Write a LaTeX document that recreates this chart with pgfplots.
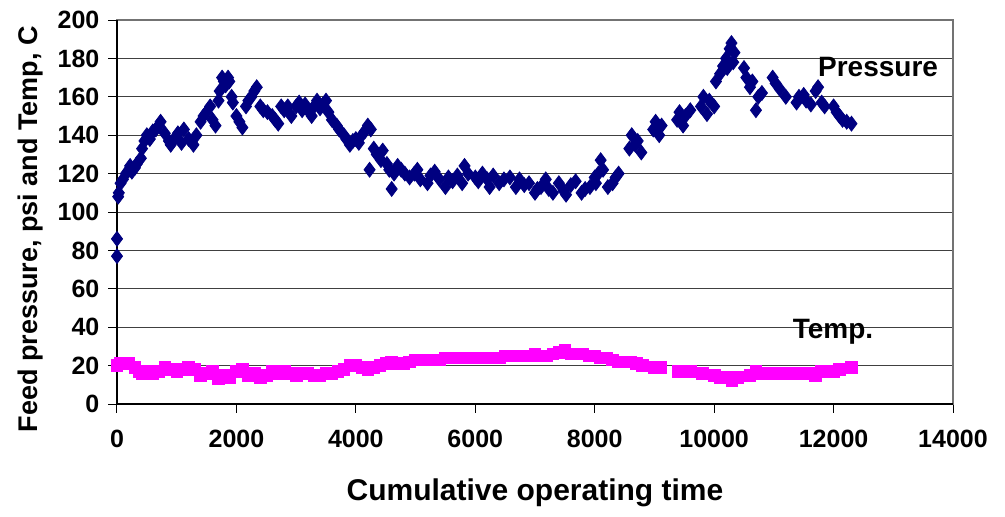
\documentclass[border=0pt]{standalone}
\usepackage{pgfplots}
\pgfplotsset{compat=1.18}
\usepackage{fontspec}
\setmainfont{Liberation Sans}
\definecolor{pnavy}{RGB}{0,0,128}
\definecolor{tmag}{RGB}{255,0,255}

\begin{document}
\begin{tikzpicture}
\path[use as bounding box] (-58.5pt,-56pt) rectangle (444pt,202pt);
\begin{axis}[
    at={(0,0)}, anchor=south west,
    scale only axis, width=418pt, height=192pt,
    xmin=0, xmax=14000, ymin=0, ymax=200,
    xtick={0,2000,...,14000}, ytick={0,20,...,200},
    scaled x ticks=false,
    xtick pos=left, ytick pos=left,
    tick align=outside, major tick length=4.3pt,
    ymajorgrids, major grid style={black!75, line width=0.5pt},
    axis line style={black!55, line width=0.6pt},
    tick style={black, line width=0.5pt},
    /pgf/number format/1000 sep={},
    /pgf/number format/assume math mode=true,
    ticklabel style={font=\fontsize{12.5}{14}\selectfont\bfseries},
    xticklabel style={yshift=-5pt},
    yticklabel style={xshift=-1pt},
    xlabel={Cumulative operating time},
    ylabel={Feed pressure, psi and Temp, C},
    xlabel style={font=\fontsize{15}{17}\selectfont\bfseries, at={(axis description cs:0.5,-0.232)}, anchor=center},
    ylabel style={font=\fontsize{13.5}{15}\selectfont\bfseries, at={(axis description cs:-0.104,0.455)}, anchor=center, rotate=0},
    clip=false,
]
% left and bottom axis lines in black
\draw[black, line width=0.6pt] (axis cs:0,200) -- (axis cs:0,0) -- (axis cs:14000,0);

% Pressure
\addplot[only marks, mark=diamond*, mark size=3.7pt, color=pnavy] coordinates {
(0,77) (0,86) (20,108) (30,110) (60,115) (100,117) (150,120) (200,122) (220,124)
(250,121) (300,123) (330,125) (400,128) (420,133) (460,137) (500,140) (550,138)
(600,142) (650,143) (700,145) (730,147) (800,141) (870,137) (900,135) (980,139)
(1020,141) (1080,136) (1120,143) (1200,138) (1280,135) (1330,140) (1400,147)
(1450,150) (1500,152) (1560,155) (1600,148) (1650,145) (1700,158) (1720,163)
(1760,170) (1790,168) (1820,166) (1860,170) (1880,168) (1920,160) (1940,157)
(2000,150) (2050,147) (2100,144) (2160,155) (2200,158) (2250,160) (2300,163)
(2340,165) (2400,155) (2450,153) (2520,152) (2600,150) (2650,148) (2700,146)
(2750,155) (2800,153) (2860,155) (2920,150) (3000,155) (3050,157) (3100,153)
(3150,156) (3220,152) (3260,150) (3300,155) (3350,158) (3400,154) (3450,156)
(3500,158) (3540,152) (3600,148) (3680,145) (3720,143) (3800,140) (3840,138)
(3900,135) (3950,137) (4000,138) (4050,136) (4100,140) (4150,142) (4200,145)
(4250,143) (4230,122) (4300,133) (4350,130) (4420,127) (4450,132) (4520,125)
(4560,122) (4600,112) (4640,120) (4700,124) (4760,122) (4820,120) (4900,118)
(4980,120) (5030,122) (5080,117) (5200,115) (5250,119) (5320,121) (5400,117)
(5500,113) (5550,118) (5620,116) (5700,119) (5780,115) (5820,124) (5880,120)
(6000,118) (6050,116) (6120,120) (6200,117) (6240,113) (6300,119) (6400,115)
(6480,117) (6580,118) (6680,113) (6740,117) (6820,114) (6900,115) (7000,110)
(7040,112) (7100,113) (7180,117) (7230,112) (7300,110) (7400,115) (7480,111)
(7520,109) (7600,114) (7680,116) (7780,110) (7840,112) (7920,113) (8000,118)
(8020,115) (8060,120) (8100,127) (8140,122) (8220,113) (8300,115) (8350,118)
(8400,120) (8580,133) (8620,140) (8680,135) (8720,137) (8780,131) (8980,143)
(9020,147) (9080,140) (9120,145) (9380,148) (9420,152) (9480,145) (9520,150)
(9600,153) (9780,155) (9820,160) (9880,151) (9920,158) (10000,155) (10030,168)
(10100,172) (10150,176) (10200,180) (10220,175) (10260,185) (10290,188) (10320,178)
(10340,183) (10500,175) (10540,170) (10600,165) (10640,168) (10700,153) (10740,160)
(10800,162) (10980,170) (11030,167) (11100,164) (11200,160) (11380,157) (11420,160)
(11500,161) (11540,158) (11620,156) (11700,163) (11740,165) (11800,157) (11850,155)
(12000,155) (12050,152) (12100,150) (12150,148) (12220,147) (12300,146)
};

% Temperature
\addplot[only marks, mark=square*, mark size=2.9pt, color=tmag] coordinates {
(0,20) (60,21) (200,21) (300,19) (380,17) (430,16) (500,17) (600,16) (700,17)
(800,19) (900,18) (1000,17) (1100,18) (1200,19) (1300,18) (1400,15) (1500,16)
(1600,17) (1700,13) (1780,15) (1880,14) (2000,17) (2100,18) (2200,15) (2300,16)
(2400,14) (2500,15) (2600,17) (2700,16) (2800,17) (2900,16) (3000,15) (3100,16)
(3200,16) (3300,15) (3400,15) (3500,16) (3600,16) (3700,17) (3800,18) (3900,20)
(4000,20) (4100,19) (4200,18) (4300,19) (4400,20) (4500,21) (4600,22) (4700,21)
(4800,21) (4900,22) (5000,23) (5100,23) (5200,23) (5300,23) (5400,23) (5500,24)
(5600,24) (5700,24) (5800,24) (5900,24) (6000,24) (6100,24) (6200,24) (6300,24)
(6400,24) (6500,25) (6600,25) (6700,25) (6800,25) (6900,25) (7000,26) (7100,25)
(7200,25) (7300,26) (7400,27) (7500,28) (7600,26) (7700,26) (7800,26) (7900,25)
(8000,25) (8100,24) (8200,24) (8300,23) (8400,22) (8600,22) (8700,21) (8800,20)
(9000,19) (9100,19) (9400,17) (9500,17) (9600,17) (9800,16) (10000,15) (10100,14)
(10200,14) (10300,12) (10400,14) (10600,15) (10700,17) (10800,16) (10900,16)
(11000,16) (11100,16) (11200,16) (11300,16) (11400,16) (11500,16) (11600,16)
(11700,15) (11800,17) (12000,17) (12100,18) (12300,19)
};

\node[font=\fontsize{14}{16}\selectfont\bfseries] at (axis cs:12745,175.5) {Pressure};
\node[font=\fontsize{14}{16}\selectfont\bfseries] at (axis cs:11990,37.5) {Temp.};
\end{axis}
\end{tikzpicture}
\end{document}
